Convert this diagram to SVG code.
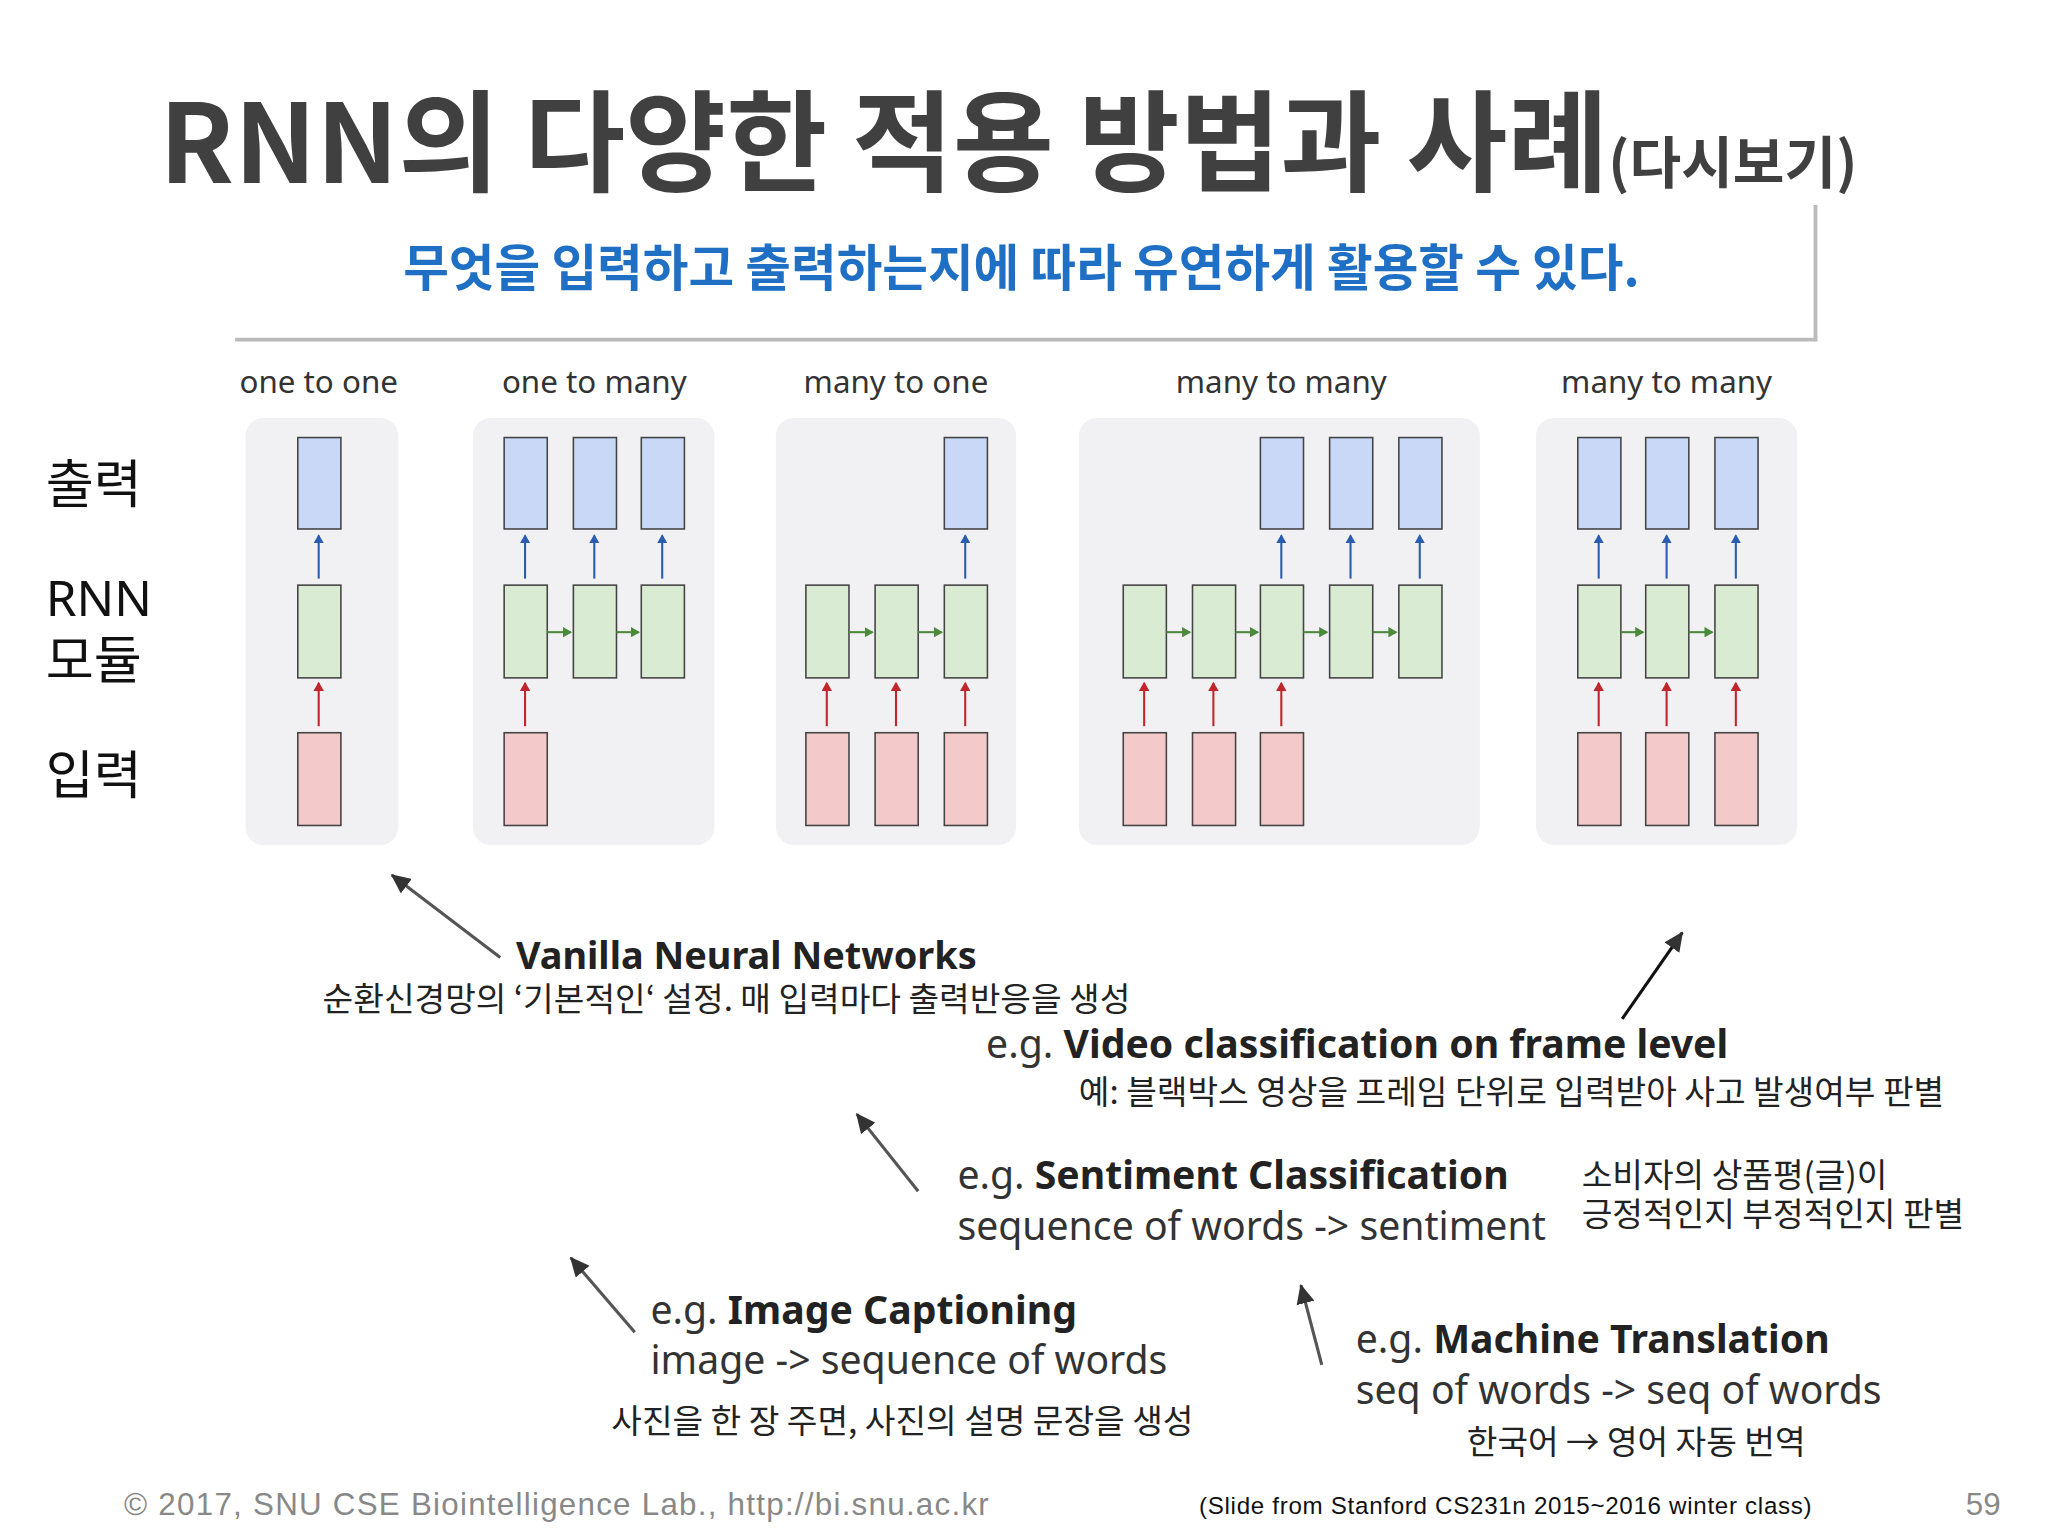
<svg xmlns="http://www.w3.org/2000/svg" width="2048" height="1536" viewBox="0 0 2048 1536">
<defs>
<style>
text{font-family:"Noto Sans","Noto Sans CJK KR",sans-serif}
.k{font-family:"Noto Sans CJK KR",sans-serif}
.lab{font-size:24px;fill:#333}
.pan{fill:#f1f1f3}
.o{fill:#c9d8f6;stroke:#444;stroke-width:1.2}
.r{fill:#d9ebd3;stroke:#444;stroke-width:1.2}
.i{fill:#f4c9c9;stroke:#444;stroke-width:1.2}
.ab{stroke:#2a5db0;stroke-width:1.6;marker-end:url(#mb)}
.ar{stroke:#c0262c;stroke-width:1.6;marker-end:url(#mr)}
.ag{stroke:#4a8a3a;stroke-width:1.6;marker-end:url(#mg)}
.an{stroke:#555;stroke-width:2.4;marker-end:url(#mk)}
.e{font-size:30px;fill:#333}
.eb{font-weight:bold;fill:#222}
.kd{font-size:25.5px;fill:#222}
</style>
<marker id="mb" markerWidth="8" markerHeight="8" refX="6" refY="4" orient="auto" markerUnits="userSpaceOnUse"><path d="M0,0L7,4L0,8z" fill="#2a5db0"/></marker>
<marker id="mr" markerWidth="8" markerHeight="8" refX="6" refY="4" orient="auto" markerUnits="userSpaceOnUse"><path d="M0,0L7,4L0,8z" fill="#c0262c"/></marker>
<marker id="mg" markerWidth="8" markerHeight="8" refX="6" refY="4" orient="auto" markerUnits="userSpaceOnUse"><path d="M0,0L7,4L0,8z" fill="#4a8a3a"/></marker>
<marker id="mk" markerWidth="16" markerHeight="14" refX="14" refY="7" orient="auto" markerUnits="userSpaceOnUse"><path d="M0,0L15,7L0,14z" fill="#333"/></marker>
</defs>
<rect width="2048" height="1536" fill="#fff"/>
<g transform="scale(1.30612)">
<g id="title">
<text x="122" y="140" style="font-family:'Noto Sans CJK KR',sans-serif;font-weight:bold;font-size:84px;fill:#404040">RNN의 다양한 적용 방법과 사례<tspan style="font-size:43px">(다시보기)</tspan></text>
</g>
<g id="subtitle">
<path d="M180,260H1390V157" fill="none" stroke="#bbb" stroke-width="3"/>
<text x="782" y="219" text-anchor="middle" class="k" style="font-weight:bold;font-size:38px;fill:#1f6fc5">무엇을 입력하고 출력하는지에 따라 유연하게 활용할 수 있다.</text>
</g>
<g id="labels">
<text x="244" y="301" text-anchor="middle" class="lab">one to one</text>
<text x="455" y="301" text-anchor="middle" class="lab">one to many</text>
<text x="686" y="301" text-anchor="middle" class="lab">many to one</text>
<text x="981" y="301" text-anchor="middle" class="lab">many to many</text>
<text x="1276" y="301" text-anchor="middle" class="lab">many to many</text>
<text x="35" y="385" class="k" style="font-size:40px;fill:#111">출력</text>
<text x="35" y="472" style="font-size:38px;fill:#111">RNN</text>
<text x="35" y="520" class="k" style="font-size:40px;fill:#111">모듈</text>
<text x="35" y="608" class="k" style="font-size:40px;fill:#111">입력</text>
</g>
<g id="panels">
<rect class="pan" x="188" y="320" width="117" height="327" rx="14"/>
<rect class="pan" x="362" y="320" width="185" height="327" rx="14"/>
<rect class="pan" x="594" y="320" width="184" height="327" rx="14"/>
<rect class="pan" x="826" y="320" width="307" height="327" rx="14"/>
<rect class="pan" x="1176" y="320" width="200" height="327" rx="14"/>
</g>
<g id="boxes">
<rect class="o" x="228" y="335" width="33" height="70"/><rect class="r" x="228" y="448" width="33" height="71"/><rect class="i" x="228" y="561" width="33" height="71"/>
<rect class="o" x="386" y="335" width="33" height="70"/><rect class="o" x="439" y="335" width="33" height="70"/><rect class="o" x="491" y="335" width="33" height="70"/>
<rect class="r" x="386" y="448" width="33" height="71"/><rect class="r" x="439" y="448" width="33" height="71"/><rect class="r" x="491" y="448" width="33" height="71"/>
<rect class="i" x="386" y="561" width="33" height="71"/>
<rect class="o" x="723" y="335" width="33" height="70"/>
<rect class="r" x="617" y="448" width="33" height="71"/><rect class="r" x="670" y="448" width="33" height="71"/><rect class="r" x="723" y="448" width="33" height="71"/>
<rect class="i" x="617" y="561" width="33" height="71"/><rect class="i" x="670" y="561" width="33" height="71"/><rect class="i" x="723" y="561" width="33" height="71"/>
<rect class="o" x="965" y="335" width="33" height="70"/><rect class="o" x="1018" y="335" width="33" height="70"/><rect class="o" x="1071" y="335" width="33" height="70"/>
<rect class="r" x="860" y="448" width="33" height="71"/><rect class="r" x="913" y="448" width="33" height="71"/><rect class="r" x="965" y="448" width="33" height="71"/><rect class="r" x="1018" y="448" width="33" height="71"/><rect class="r" x="1071" y="448" width="33" height="71"/>
<rect class="i" x="860" y="561" width="33" height="71"/><rect class="i" x="913" y="561" width="33" height="71"/><rect class="i" x="965" y="561" width="33" height="71"/>
<rect class="o" x="1208" y="335" width="33" height="70"/><rect class="o" x="1260" y="335" width="33" height="70"/><rect class="o" x="1313" y="335" width="33" height="70"/>
<rect class="r" x="1208" y="448" width="33" height="71"/><rect class="r" x="1260" y="448" width="33" height="71"/><rect class="r" x="1313" y="448" width="33" height="71"/>
<rect class="i" x="1208" y="561" width="33" height="71"/><rect class="i" x="1260" y="561" width="33" height="71"/><rect class="i" x="1313" y="561" width="33" height="71"/>
</g>
<g id="connectors">
<path class="ab" d="M244,443V410"/><path class="ar" d="M244,556V523"/>
<path class="ab" d="M402,443V410"/><path class="ab" d="M455,443V410"/><path class="ab" d="M507,443V410"/><path class="ar" d="M402,556V523"/>
<path class="ag" d="M419,484H437"/><path class="ag" d="M472,484H489"/>
<path class="ab" d="M739,443V410"/>
<path class="ar" d="M633,556V523"/><path class="ar" d="M686,556V523"/><path class="ar" d="M739,556V523"/>
<path class="ag" d="M650,484H668"/><path class="ag" d="M703,484H721"/>
<path class="ab" d="M981,443V410"/><path class="ab" d="M1034,443V410"/><path class="ab" d="M1087,443V410"/>
<path class="ar" d="M876,556V523"/><path class="ar" d="M929,556V523"/><path class="ar" d="M981,556V523"/>
<path class="ag" d="M893,484H911"/><path class="ag" d="M946,484H963"/><path class="ag" d="M998,484H1016"/><path class="ag" d="M1051,484H1069"/>
<path class="ab" d="M1224,443V410"/><path class="ab" d="M1276,443V410"/><path class="ab" d="M1329,443V410"/>
<path class="ar" d="M1224,556V523"/><path class="ar" d="M1276,556V523"/><path class="ar" d="M1329,556V523"/>
<path class="ag" d="M1241,484H1258"/><path class="ag" d="M1293,484H1311"/>
<path class="an" d="M383,733L300,670"/>
<path class="an" d="M1242,780L1288,714" style="stroke:#111"/>
<path class="an" d="M703,912L656,853"/>
<path class="an" d="M486,1020L437,963"/>
<path class="an" d="M1012,1045L996,984"/>
</g>
<g id="annotations">
<text x="395" y="742" class="e eb" style="font-size:29px">Vanilla Neural Networks</text>
<text x="247" y="774" class="k kd">순환신경망의 ‘기본적인‘ 설정. 매 입력마다 출력반응을 생성</text>
<text x="755" y="810" class="e">e.g. <tspan class="eb">Video classification on frame level</tspan></text>
<text x="826" y="845" class="k kd">예: 블랙박스 영상을 프레임 단위로 입력받아 사고 발생여부 판별</text>
<text x="733" y="910" class="e">e.g. <tspan class="eb">Sentiment Classification</tspan></text>
<text x="733" y="949" class="e">sequence of words -&gt; sentiment</text>
<text x="1211" y="909" class="k kd">소비자의 상품평(글)이</text>
<text x="1211" y="939" class="k kd">긍정적인지 부정적인지 판별</text>
<text x="498" y="1014" class="e">e.g. <tspan class="eb">Image Captioning</tspan></text>
<text x="498" y="1052" class="e">image -&gt; sequence of words</text>
<text x="468" y="1097" class="k kd">사진을 한 장 주면, 사진의 설명 문장을 생성</text>
<text x="1038" y="1036" class="e">e.g. <tspan class="eb">Machine Translation</tspan></text>
<text x="1038" y="1075" class="e">seq of words -&gt; seq of words</text>
<text x="1123" y="1113" class="k kd">한국어 → 영어 자동 번역</text>
</g>
<g id="footer">
<text x="95" y="1160" textLength="662" style="font-family:'Liberation Sans',sans-serif;font-size:24px;fill:#888">©  2017, SNU CSE Biointelligence Lab., http://bi.snu.ac.kr</text>
<text x="918" y="1159" textLength="469" style="font-family:'Liberation Sans',sans-serif;font-size:18.5px;fill:#111">(Slide from Stanford CS231n 2015~2016 winter class)</text>
<text x="1505" y="1160" style="font-family:'Liberation Sans',sans-serif;font-size:24px;fill:#888">59</text>
</g>
</g>
</svg>
